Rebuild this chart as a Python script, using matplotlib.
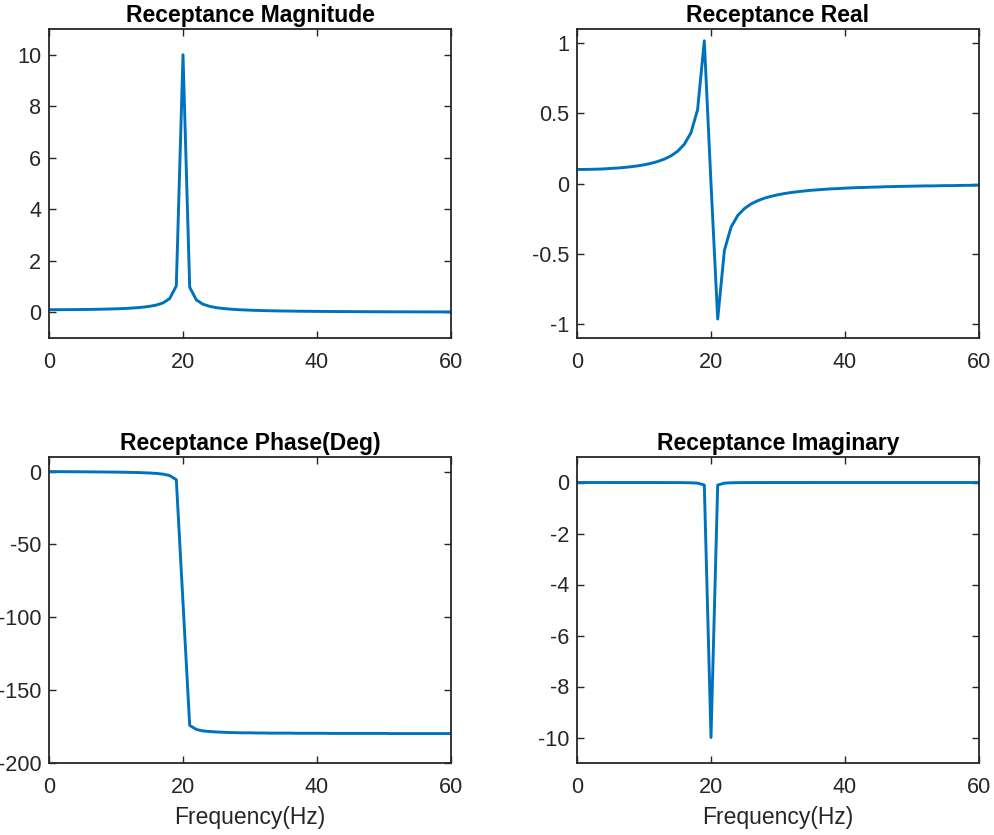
import matplotlib
matplotlib.use("Agg")
import matplotlib.pyplot as plt

plt.rcParams['font.family'] = ['Liberation Sans', 'DejaVu Sans']

# frequency axis (Hz), one point per Hz
freq = list(range(0, 61))

# values
rec_real = [
    0.100, 0.100, 0.101, 0.102, 0.104, 0.107, 0.110, 0.114, 0.119, 0.125,
    0.133, 0.143, 0.156, 0.173, 0.196, 0.229, 0.278, 0.360, 0.526, 1.016,
    0.000, -0.965, -0.476, -0.310, -0.227, -0.178, -0.145, -0.122, -0.104, -0.091,
    -0.080, -0.071, -0.064, -0.058, -0.053, -0.048, -0.045, -0.041, -0.038, -0.036,
    -0.033, -0.031, -0.029, -0.028, -0.026, -0.025, -0.023, -0.022, -0.021, -0.020,
    -0.019, -0.018, -0.017, -0.017, -0.016, -0.015, -0.015, -0.014, -0.013, -0.013,
    -0.0125,
]

rec_imag = [
    0.000, 0.000, 0.000, 0.000, 0.000, 0.000, -0.001, -0.001, -0.001, -0.001,
    -0.001, -0.001, -0.002, -0.002, -0.003, -0.004, -0.006, -0.011, -0.025, -0.099,
    -10.000, -0.099, -0.025, -0.011, -0.006, -0.004, -0.003, -0.002, -0.002, -0.001,
    -0.001, -0.001, -0.001, -0.001, -0.001, 0.000, 0.000, 0.000, 0.000, 0.000,
    0.000, 0.000, 0.000, 0.000, 0.000, 0.000, 0.000, 0.000, 0.000, 0.000,
    0.000, 0.000, 0.000, 0.000, 0.000, 0.000, 0.000, 0.000, 0.000, 0.000,
    0.000,
]

rec_mag = [
    0.100, 0.100, 0.101, 0.102, 0.104, 0.107, 0.110, 0.114, 0.119, 0.125,
    0.133, 0.143, 0.156, 0.173, 0.196, 0.229, 0.278, 0.360, 0.527, 1.021,
    10.000, 0.971, 0.477, 0.310, 0.227, 0.178, 0.145, 0.122, 0.104, 0.091,
    0.080, 0.071, 0.064, 0.058, 0.053, 0.048, 0.045, 0.041, 0.038, 0.036,
    0.033, 0.031, 0.029, 0.028, 0.026, 0.025, 0.023, 0.022, 0.021, 0.020,
    0.019, 0.018, 0.017, 0.017, 0.016, 0.015, 0.015, 0.014, 0.013, 0.013,
    0.0125,
]

rec_phase = [
    0.0, -0.03, -0.06, -0.09, -0.12, -0.15, -0.19, -0.23, -0.27, -0.32,
    -0.38, -0.45, -0.54, -0.64, -0.79, -0.98, -1.27, -1.75, -2.71, -5.57,
    -90.0, -174.2, -177.0, -178.0, -178.4, -178.7, -178.9, -179.1, -179.2, -179.3,
    -179.3, -179.4, -179.4, -179.5, -179.5, -179.5, -179.5, -179.6, -179.6, -179.6,
    -179.6, -179.6, -179.7, -179.7, -179.7, -179.7, -179.7, -179.7, -179.7, -179.7,
    -179.7, -179.8, -179.8, -179.8, -179.8, -179.8, -179.8, -179.8, -179.8, -179.8,
    -179.8,
]

LINE = '#0072BD'
AXC = '#262626'

W, H = 995, 835
fig = plt.figure(figsize=(W / 100, H / 100), dpi=100)


def make_ax(x0, y0, x1, y1):
    return fig.add_axes([x0 / W, 1 - y1 / H, (x1 - x0) / W, (y1 - y0) / H])


panels = [
    (make_ax(49, 29, 451, 338), rec_mag, 'Receptance Magnitude', (-1, 11), [0, 2, 4, 6, 8, 10], False),
    (make_ax(577, 29, 979, 338), rec_real, 'Receptance Real', (-1.1, 1.1), [-1, -0.5, 0, 0.5, 1], False),
    (make_ax(49, 457, 451, 763), rec_phase, 'Receptance Phase(Deg)', (-200, 10), [-200, -150, -100, -50, 0], True),
    (make_ax(577, 457, 979, 763), rec_imag, 'Receptance Imaginary', (-11, 1), [-10, -8, -6, -4, -2, 0], True),
]

for ax, vals, title, ylim, yticks, bottom in panels:
    ax.plot(freq, vals, color=LINE, lw=2.1)
    ax.set_xlim(0, 60)
    ax.set_ylim(*ylim)
    ax.set_xticks([0, 20, 40, 60])
    ax.set_yticks(yticks)
    ax.set_yticklabels([f'{t:g}' for t in yticks])
    ax.tick_params(direction='in', length=5, width=1, colors=AXC, labelsize=15.6,
                   top=True, right=True)
    ax.tick_params(axis='x', pad=10)
    ax.tick_params(axis='y', pad=5.5)
    for s in ax.spines.values():
        s.set_color(AXC)
        s.set_linewidth(1.3)
    ax.set_title(title, fontsize=16.5, fontweight='bold', pad=5)
    if bottom:
        ax.set_xlabel('Frequency(Hz)', fontsize=16.5, color=AXC, labelpad=6)

fig.savefig('out.png', dpi=100)
